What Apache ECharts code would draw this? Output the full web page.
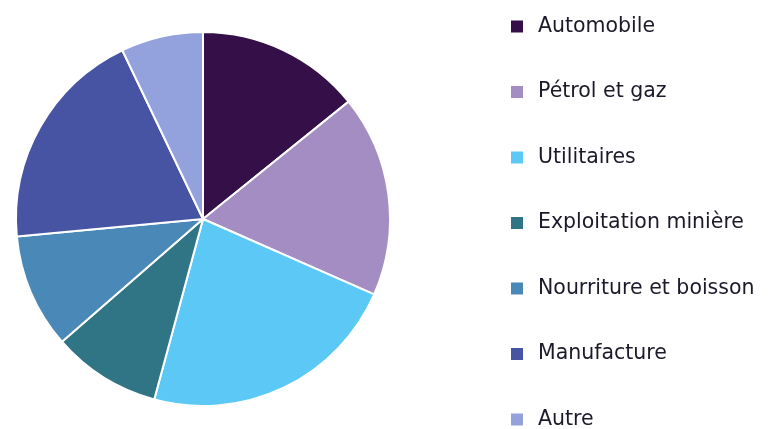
<!DOCTYPE html>
<html>
<head>
<meta charset="utf-8">
<script src="https://cdn.jsdelivr.net/npm/echarts@6/dist/echarts.min.js"></script>
<style>
  html, body { margin: 0; padding: 0; background: #fff; }
  #chart { width: 776px; height: 429px; }
</style>
</head>
<body>
<div id="chart"></div>
<script>
const sectors = ["Automobile", "Pétrol et gaz", "Utilitaires", "Exploitation minière", "Nourriture et boisson", "Manufacture", "Autre"]
const shares = [14.2, 17.4, 22.6, 9.4, 9.9, 19.4, 7.1]
const colors = ["#350f47", "#a38dc2", "#5bc8f5", "#307585", "#4a88b8", "#4753a3", "#93a2dc"]

const myChart = echarts.init(document.getElementById("chart"))

const option = {
  backgroundColor: "#fff",
  animation: false,
  color: colors,
  legend: {
    orient: "vertical",
    left: 509,
    top: 15.5,
    height: 420,
    padding: 0,
    icon: "rect",
    itemWidth: 14,
    itemHeight: 14,
    itemGap: 43.5,
    data: sectors,
    textStyle: {
      fontFamily: "DejaVu Sans",
      fontSize: 20.5,
      color: "#1c1a2a",
      lineHeight: 22,
      padding: [0, 0, 0, 9],
    },
  },
  series: [
    {
      type: "pie",
      center: [203, 219],
      radius: 187,
      startAngle: 90,
      clockwise: true,
      label: { show: false },
      labelLine: { show: false },
      itemStyle: { borderColor: "#fff", borderWidth: 2 },
      data: sectors.map((name, i) => ({ name, value: shares[i] })),
    },
  ],
}

myChart.setOption(option)
</script>
</body>
</html>
